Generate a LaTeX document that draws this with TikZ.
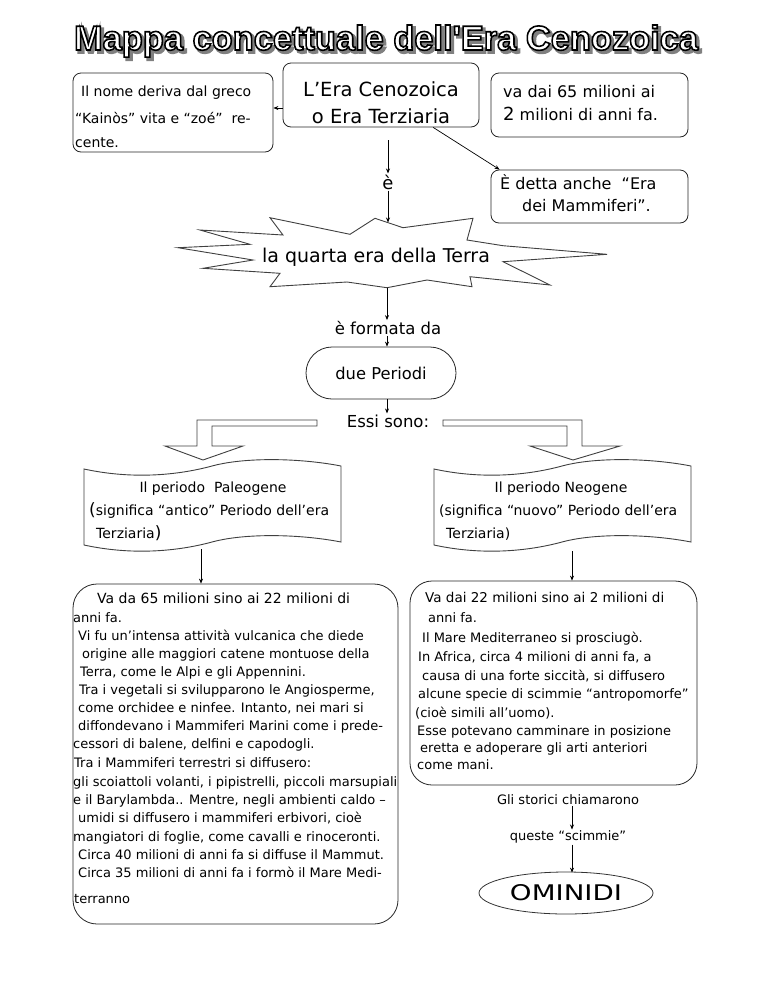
\documentclass[tikz,border=0pt]{standalone}
\usepackage{fontspec}
\setmainfont{DejaVu Sans}
\newfontfamily\titlefont{Liberation Sans}[Ligatures=TeXOff]
\usetikzlibrary{arrows.meta,calc,shapes.geometric}
\newcommand\fsz[1]{\fontsize{#1}{#1}\selectfont}
\newcommand\titletext{\resizebox{624pt}{25pt}{\titlefont\bfseries\fsz{33}Mappa concettuale dell'Era Cenozoica}}
\begin{document}
\begin{tikzpicture}[x=1pt,y=-1pt,
  box/.style={draw=black!85, line width=0.8pt, rounded corners=8pt, inner sep=0pt},
  bigbox/.style={draw=black!85, line width=0.8pt, rounded corners=24pt, inner sep=0pt},
  ar/.style={-{Stealth[length=5pt,width=4pt]}, line width=0.7pt},
  t/.style={inner sep=0pt, anchor=base west, text=black},
  tc/.style={inner sep=0pt, anchor=base, text=black},
  outl/.style={draw=black!75, line width=0.9pt, fill=white, line join=miter},
  body/.style={t, font=\fsz{13}}
]
\useasboundingbox (0,0) rectangle (768,994);
\fill[white] (0,0) rectangle (768,994);

% ---- title (gray shadow, then outlined white letters) in one node
\node[inner sep=0pt, anchor=base] (title) at (386,50)
  {{\color{black!50}\special{pdf:code 2 Tr 2.6 w}\rlap{\hspace*{2.5pt}\raisebox{-2.5pt}{\titletext}}\special{pdf:code 0 Tr}}%
   {\color{white}\special{pdf:code 0 G 2 Tr 1.5 w}\titletext\special{pdf:code 0 Tr}}};

% ---- top boxes
\node[box, minimum width=200pt, minimum height=79pt] (lb) at (173,112.5) {};
\node[box, minimum width=196pt, minimum height=64pt] (cb) at (381,95) {};
\node[box, minimum width=197pt, minimum height=64pt] (rb) at (589.5,105) {};
\node[box, minimum width=197pt, minimum height=53pt] (eb) at (589.5,196.5) {};

\node[t, font=\fsz{14}] (lb1) at (81,96.5) {Il nome deriva dal greco};
\node[t, font=\fsz{14}] (lb2) at (75,123.5) {“Kainòs” vita e “zoé”\ \ re-};
\node[t, font=\fsz{14}] (lb3) at (75,147) {cente.};

\node[tc, font=\fsz{19.5}] (cb1) at (381,96) {L’Era Cenozoica};
\node[tc, font=\fsz{19.5}] (cb2) at (381,123) {o Era Terziaria};

\node[t, font=\fsz{16}] (rb1) at (503,97) {va dai 65 milioni ai};
\node[t, font=\fsz{16}] (rb2) at (503,120) {{\fsz{18}2} milioni di anni fa.};

\node[t, font=\fsz{16}] (eb1) at (500,189) {È detta anche\ \ “Era};
\node[t, font=\fsz{16}] (eb2) at (522,211) {dei Mammiferi”.};

\coordinate (y108) at (0,108);
\draw[ar] (cb.west |- y108) -- (lb.east |- y108);

\node[font=\fsz{18}, inner sep=1pt] (e) at (388,182) {è};
\draw[ar] (cb.south -| e) ++(0,13) -- (e.north);
\coordinate (startop) at (388,222.5);
\draw[ar] (e.south) -- (startop);
\draw[ar] ($(cb.south west)!0.765!(cb.south east)$) -- ([xshift=9pt]eb.north west);

% ---- star
\draw[outl] (270,217.7) -- (350,234.3) -- (375,218.3) -- (403,227.7) -- (473,218.3)
  -- (467,240) -- (503,245.7) -- (607,254.3) -- (503,261.7) -- (550,285) -- (470,276.7)
  -- (472,286.7) -- (427,280) -- (387,287.7) -- (347,282) -- (270,286.7) -- (280,273.3)
  -- (203,268.3) -- (253,260) -- (178,247.7) -- (250,244.3) -- (200,230) -- (283,235) -- cycle;
\node[font=\fsz{19}] (star) at (376,257) {la quarta era della Terra};
\coordinate (starbot) at (387,287.5);

\node[font=\fsz{16.5}, inner sep=1pt] (form) at (388,328) {è formata da};
\draw[ar] (starbot) -- (starbot |- form.north);
\node[draw=black!85, line width=0.8pt, rounded corners=26pt, minimum width=150pt, minimum height=52pt, font=\fsz{16.3}] (due) at (381,373) {due Periodi};
\draw[ar] (form.south -| starbot) -- (due.north -| starbot);
\node[font=\fsz{16.5}, inner sep=1pt] (essi) at (388,421) {Essi sono:};
\draw[ar] (due.south -| starbot) -- (essi.north -| starbot);

% ---- block arrows
\draw[outl] (317,420) -- (197,420) -- (197,446) -- (165,446) -- (203,460) -- (243,446)
  -- (212,446) -- (212,426) -- (317,426) -- cycle;
\draw[outl] (443,420) -- (582,420) -- (582,446) -- (620,446) -- (573,460) -- (530,446)
  -- (567,446) -- (567,426) -- (443,426) -- cycle;

% ---- banners
\draw[outl] (84,469) .. controls (130,479) and (175,476) .. (212,466) .. controls (245,457) and (300,458) .. (341,466)
  -- (341,542) .. controls (300,534) and (245,533) .. (212,542) .. controls (175,552) and (130,555) .. (84,545) -- cycle;
\draw[outl] (434,469) .. controls (480,479) and (525,476) .. (562,466) .. controls (595,457) and (650,458) .. (691,466)
  -- (691,542) .. controls (650,534) and (595,533) .. (562,542) .. controls (525,552) and (480,555) .. (434,545) -- cycle;

\node[tc, font=\fsz{14}] (pg1) at (213,492) {Il periodo\ \ Paleogene};
\node[t, font=\fsz{14}] (pg2) at (89,515) {{\fsz{17}(}significa “antico” Periodo dell’era};
\node[t, font=\fsz{14}] (pg3) at (96,538) {Terziaria{\fsz{17})}};
\node[tc, font=\fsz{14}] (ng1) at (561,492) {Il periodo Neogene};
\node[t, font=\fsz{14}] (ng2) at (439,515) {(significa “nuovo” Periodo dell’era};
\node[t, font=\fsz{14}] (ng3) at (446,538) {Terziaria)};

% ---- big boxes
\node[bigbox, minimum width=325pt, minimum height=340pt] (pal) at (235.5,754) {};
\node[bigbox, rounded corners=22pt, minimum width=287pt, minimum height=204pt] (neo) at (553.5,683) {};

\coordinate (pgb) at (201,549);
\coordinate (ngb) at (572,551);
\draw[ar] (pgb) -- (pgb |- pal.north);
\draw[ar] (ngb) -- (ngb |- neo.north);

\node[t, font=\fsz{14}] (l1) at (97,603.5) {Va da 65 milioni sino ai 22 milioni di};
\node[body] (l2) at (73,622) {anni fa.};
\node[body] (l3) at (78,640) {Vi fu un’intensa attività vulcanica che diede};
\node[body] (l4) at (82,658) {origine alle maggiori catene montuose della};
\node[body] (l5) at (80,676) {Terra, come le Alpi e gli Appennini.};
\node[body] (l6) at (79,694) {Tra i vegetali si svilupparono le Angiosperme,};
\node[body] (l7) at (78,712) {come orchidee e ninfee. Intanto, nei mari si};
\node[body] (l8) at (78,730) {diffondevano i Mammiferi Marini come i prede-};
\node[body] (l9) at (73,748) {cessori di balene, delfini e capodogli.};
\node[body] (l10) at (74,767) {Tra i Mammiferi terrestri si diffusero:};
\node[body] (l11) at (73,786) {gli scoiattoli volanti, i pipistrelli, piccoli marsupiali};
\node[body] (l12) at (73,804) {e il Barylambda.. Mentre, negli ambienti caldo –};
\node[body] (l13) at (78,822) {umidi si diffusero i mammiferi erbivori, cioè};
\node[body] (l14) at (73,841) {mangiatori di foglie, come cavalli e rinoceronti.};
\node[body] (l15) at (78,859) {Circa 40 milioni di anni fa si diffuse il Mammut.};
\node[body] (l16) at (78,877) {Circa 35 milioni di anni fa i formò il Mare Medi-};
\node[body] (l17) at (74,903) {terranno};

\node[t, font=\fsz{13.5}] (r1) at (425,602.5) {Va dai 22 milioni sino ai 2 milioni di};
\node[body] (r2) at (428,622) {anni fa.};
\node[body] (r3) at (422,642) {Il Mare Mediterraneo si prosciugò.};
\node[body] (r4) at (418,661) {In Africa, circa 4 milioni di anni fa, a};
\node[body] (r5) at (422,680) {causa di una forte siccità, si diffusero};
\node[body] (r6) at (418,698) {alcune specie di scimmie “antropomorfe”};
\node[body] (r7) at (415,717) {(cioè simili all’uomo).};
\node[body] (r8) at (417,735) {Esse potevano camminare in posizione};
\node[body] (r9) at (420,752) {eretta e adoperare gli arti anteriori};
\node[body] (r10) at (417,769) {come mani.};

% ---- bottom chain
\node[font=\fsz{13}, inner sep=1pt] (gli) at (568,800) {Gli storici chiamarono};
\node[font=\fsz{13}, inner sep=1pt] (que) at (568,837) {queste “scimmie”};
\node[draw=black!80, line width=0.8pt, ellipse, minimum width=174pt, minimum height=42pt, inner sep=0pt] (omi) at (566,893) {\resizebox{112pt}{16pt}{OMINIDI}};
\coordinate (ax) at (572,0);
\draw[ar] (gli.south -| ax) -- (que.north -| ax);
\draw[ar] (que.south -| ax) -- ([yshift=-1pt]omi.north -| ax);
\end{tikzpicture}
\end{document}
